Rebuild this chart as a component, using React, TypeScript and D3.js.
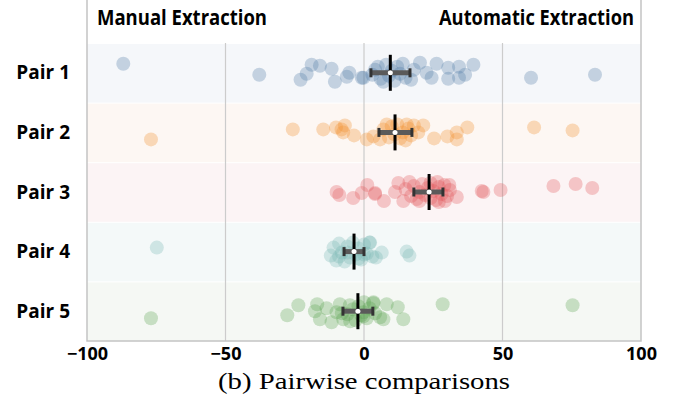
import React, { useEffect, useRef } from 'react';
import * as d3 from 'd3';

const pairs = ['Pair 1', 'Pair 2', 'Pair 3', 'Pair 4', 'Pair 5'];
const colors = ['#4e79a7', '#f28e2b', '#e15759', '#76b7b2', '#59a14f'];
const bandColors = ['#f5f7fa', '#fdf7f3', '#fcf4f5', '#f4f9f9', '#f5f8f4'];
const ticks = [-100, -50, 0, 50, 100];

// [difference, jitter]
const pair1 = [
  [-86.9, -0.9], [-37.8, 0.2], [-22.9, 0.7], [-20.7, 0.1], [-18.9, -0.8], [-15.9, -0.7],
  [-11.7, -0.4], [-10.5, 0.9], [-6.2, 0.4], [-5.3, 0], [-0.8, 0.5], [-0.2, 0.5],
  [3, 0.2], [5, -0.6], [6, 0.6], [8, -0.8], [9, 0.3], [10, -0.2], [11, 0.8], [12, -0.6],
  [13, 0.1], [14, -0.9], [15, 0.5], [17, 0.7], [18, -0.3], [7, 0.9], [4, -0.3],
  [20.2, -1.0], [22.6, 0], [24.4, 0.5], [26.2, -0.9], [30.4, -0.5], [30.4, 0.6],
  [34.3, -0.6], [34.3, 0.5], [36.5, 0.2], [39.5, -0.8], [60.3, 0.5], [83.4, 0.2],
];
const pair2 = [
  [-76.9, 0.7], [-25.7, -0.3], [-14.7, -0.3], [-10.1, -0.5], [-8.1, -0.3], [-6.9, -0.7],
  [-7.5, 0], [-3.6, 0.3], [1, 0.7], [3.4, 0.4], [5.8, 0.7], [8.2, -0.8],
  [7, -0.3], [9, 0.5], [10, -0.6], [11, 0.2], [12, -0.8], [13, 0.6], [14, 0], [15, 0.8],
  [16, -0.4], [17, 0.3], [18, -0.7], [15.4, -0.8], [19.6, 0], [21.4, -0.7],
  [25.3, 0.6], [30.1, 0.4], [33.5, 0], [33.5, 0.7], [37.3, -0.5], [61.4, -0.5], [75.3, -0.2],
];
const pair3 = [
  [-9.9, 0], [-8.9, 0.3], [-3.9, 0.6], [-0.8, 0.1], [1.2, -0.7], [4, 0.2], [4, 0.1],
  [7.2, 0.9], [11.2, 0], [12.4, -0.9], [14.2, 0.9], [16.4, -1.0],
  [15, -0.3], [17, 0.4], [18, -0.6], [19, 0.7], [20, 0], [21, -0.8], [22, 0.3], [23, -0.4],
  [24, 0.6], [25, -0.1], [26, 0.8], [27, -0.5], [28, 0.2], [29, -0.7], [30, 0.4], [31, -0.2],
  [20, 0.9], [24, -0.9], [27, 1.0], [26.5, -1.0], [30.8, -0.7], [33.5, 0.5], [29.2, 0.9],
  [42.5, -0.1], [43.1, 0], [49.3, -0.2], [68.4, -0.6], [76.4, -0.8], [82.4, -0.4],
];
const pair4 = [
  [-74.8, -0.4], [-12, 0.4], [-11, -0.4], [-10, 0.9], [-9, -0.8], [-8, 0.1], [-7, 1.0],
  [-6, -0.5], [-5, 0.6], [-4, -0.9], [-3, 0.3], [-2, -0.3], [-1, 0.8], [0, -0.7], [1, 0.2],
  [2, -0.9], [3, 0.5], [-6, 0.1], [-9, 0.5], [-2, 0.7], [0, 0.3], [2.2, -0.9], [6.4, 0.1],
  [4.3, 0.6], [15.4, 0], [16.4, 0.4],
];
const pair5 = [
  [-76.9, 0.7], [-27.7, 0.4], [-23.7, -0.6], [-17.7, 0], [-16.9, -0.7], [-15.9, 0.8],
  [-13.5, -0.3], [-11.7, 1.1], [-9.9, 0.1], [-7.5, 0.8], [-8.7, -0.7], [-5.1, -0.6],
  [-0.2, 0.5], [3.4, -0.8], [3.4, -0.9], [8.2, -0.7], [12.2, -0.4], [14.2, 0.8], [7, 0.8],
  [5.8, 0.6], [-0.2, 0.1], [-6, 0.3], [-4, -0.2], [-3, 0.9], [-2, -0.5], [-1, 0.4], [1, 0.7],
  [2, -0.3], [4, 0.2], [-5, 1.0], [-8, 0.2], [0, -0.9], [28.4, -0.7], [75.3, -0.6],
];
const series = [pair1, pair2, pair3, pair4, pair5];

// mean and 95% CI
const means = [9.5, 11.2, 23.5, -3.6, -2.2];
const ciLow = [2.5, 5.4, 18, -7.2, -7.6];
const ciHigh = [16.6, 17.3, 28.5, 0, 3.2];

const W = 683;
const H = 402;
const sans = 'Open Sans, sans-serif';

export default function App() {
  const svgRef = useRef(null);

  useEffect(() => {
    const svg = d3.select(svgRef.current);
    svg.selectAll('*').remove();

    const left = 87, right = 641, top = 43, bottom = 341;
    const x = d3.scaleLinear().domain([-100, 100]).range([left, right]);
    const y = d3.scaleBand().domain(pairs).range([top, bottom]);
    const jit = d3.scaleLinear().domain([-1, 1]).range([-10, 10]);

    // bands
    svg.append('g').selectAll('rect').data(pairs).join('rect')
      .attr('x', left).attr('y', (d) => y(d) + 1)
      .attr('width', right - left).attr('height', y.bandwidth() - 1)
      .attr('fill', (d, i) => bandColors[i]);

    // grid
    svg.append('g').selectAll('line').data([-50, 0, 50]).join('line')
      .attr('x1', (d) => x(d)).attr('x2', (d) => x(d))
      .attr('y1', top).attr('y2', bottom)
      .attr('stroke', '#cccccc').attr('stroke-width', 1.2);

    // frame
    svg.append('path')
      .attr('d', `M${left},0V${bottom}H${right}V0`)
      .attr('fill', 'none').attr('stroke', '#c4c4c4').attr('stroke-width', 1.5);

    // points
    series.forEach((pts, i) => {
      const cy = y(pairs[i]) + y.bandwidth() / 2;
      svg.append('g').selectAll('circle').data(pts).join('circle')
        .attr('cx', (d) => x(d[0])).attr('cy', (d) => cy + jit(d[1]))
        .attr('r', 7).attr('fill', colors[i]).attr('fill-opacity', 0.3);
    });

    // mean + CI
    pairs.forEach((p, i) => {
      const cy = y(p) + y.bandwidth() / 2;
      const g = svg.append('g');
      g.append('line')
        .attr('x1', x(ciLow[i])).attr('x2', x(ciHigh[i]))
        .attr('y1', cy).attr('y2', cy)
        .attr('stroke', '#5a5a5a').attr('stroke-width', 5);
      [ciLow[i], ciHigh[i]].forEach((v) => {
        g.append('line')
          .attr('x1', x(v)).attr('x2', x(v))
          .attr('y1', cy - 4.5).attr('y2', cy + 4.5)
          .attr('stroke', '#333').attr('stroke-width', 3);
      });
      g.append('line')
        .attr('x1', x(means[i])).attr('x2', x(means[i]))
        .attr('y1', cy - 18).attr('y2', cy + 18)
        .attr('stroke', '#000').attr('stroke-width', 3);
      g.append('circle')
        .attr('cx', x(means[i])).attr('cy', cy).attr('r', 2.5).attr('fill', '#fff');
    });

    // axis
    const axis = svg.append('g')
      .attr('transform', `translate(0,${bottom})`)
      .call(d3.axisBottom(x).tickValues(ticks).tickSize(0).tickPadding(6));
    axis.select('.domain').remove();
    axis.selectAll('text')
      .attr('font-family', sans)
      .attr('font-weight', 700).attr('font-size', 18).attr('fill', '#000');

    // pair labels
    svg.append('g').selectAll('text').data(pairs).join('text')
      .attr('x', 70).attr('y', (d) => y(d) + y.bandwidth() / 2)
      .attr('dy', '0.35em').attr('text-anchor', 'end')
      .attr('font-family', sans)
      .attr('font-weight', 700).attr('font-size', 19)
      .text((d) => d);

    // headings
    svg.append('text').attr('x', 97).attr('y', 25)
      .attr('font-family', sans).attr('font-weight', 700)
      .attr('font-size', 21).attr('textLength', 170).attr('lengthAdjust', 'spacingAndGlyphs')
      .text('Manual Extraction');
    svg.append('text').attr('x', 439).attr('y', 25)
      .attr('font-family', sans).attr('font-weight', 700)
      .attr('font-size', 21).attr('textLength', 195).attr('lengthAdjust', 'spacingAndGlyphs')
      .text('Automatic Extraction');

    // caption
    svg.append('text').attr('x', 364).attr('y', 389).attr('text-anchor', 'middle')
      .attr('font-family', 'Liberation Serif, serif').attr('font-size', 24)
      .attr('textLength', 292).attr('lengthAdjust', 'spacingAndGlyphs')
      .text('(b) Pairwise comparisons');
  }, []);

  return (
    <svg ref={svgRef} width={W} height={H}
      style={{ position: 'absolute', left: 0, top: 0, background: '#fff' }} />
  );
}
